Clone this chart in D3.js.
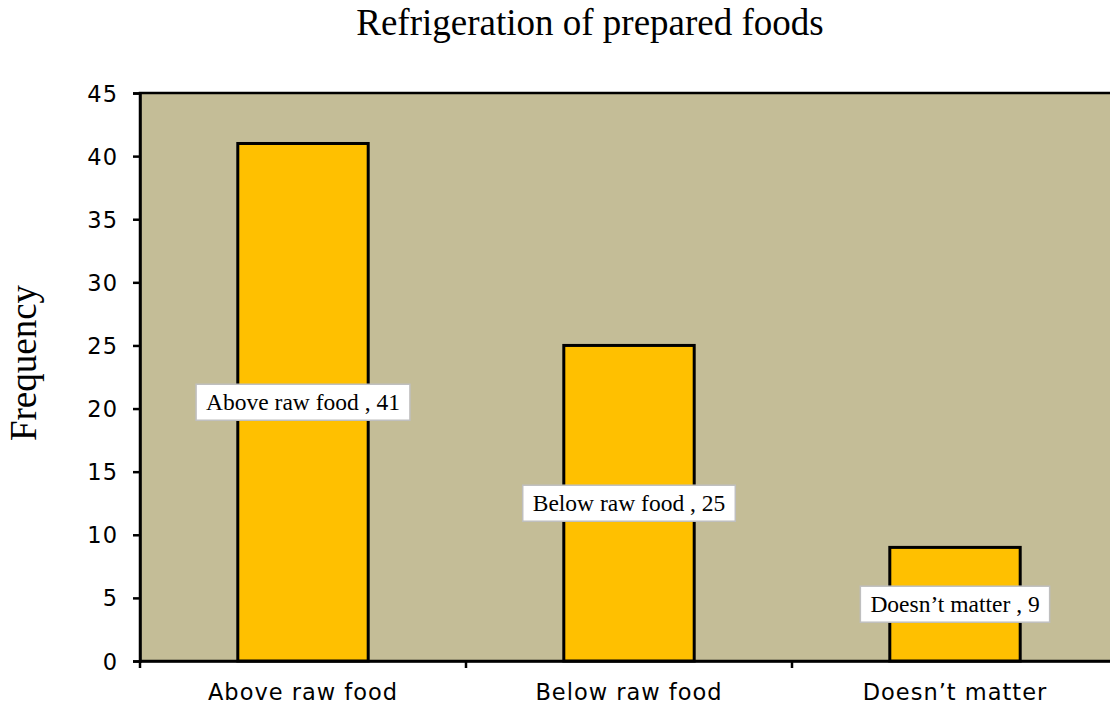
<!DOCTYPE html>
<html>
<head>
<meta charset="utf-8">
<script src="https://cdn.jsdelivr.net/npm/d3@7"></script>
<style>
  html, body { margin: 0; padding: 0; background: #fff; }
  svg { display: block; }
</style>
</head>
<body>
<svg id="chart" width="1110" height="709"></svg>
<script>
// chart data
var categories = ["Above raw food", "Below raw food", "Doesn\u2019t matter"];
var frequencies = [41, 25, 9];
var yTicks = [0, 5, 10, 15, 20, 25, 30, 35, 40, 45];

var svg = d3.select("#chart"),
  margin = {top: 93, left: 140, bottom: 48},
  plotW = 978,
  plotH = +svg.attr("height") - margin.top - margin.bottom;

var x = d3.scaleBand()
  .domain(categories)
  .range([margin.left, margin.left + plotW])
  .padding(0);

var y = d3.scaleLinear()
  .domain([0, 45])
  .range([margin.top + plotH, margin.top]);

var barW = x.bandwidth() * 0.4;

// plot background
svg.append("rect")
  .attr("x", margin.left)
  .attr("y", margin.top)
  .attr("width", plotW)
  .attr("height", plotH)
  .style("fill", "#c4bd97")
  .style("stroke", "#000")
  .style("stroke-width", 2.5);

// bars
svg.append("g")
  .selectAll("rect")
  .data(frequencies)
  .enter().append("rect")
  .attr("x", function(d, i) { return x(categories[i]) + (x.bandwidth() - barW) / 2; })
  .attr("y", function(d) { return y(d); })
  .attr("width", barW)
  .attr("height", function(d) { return y(0) - y(d); })
  .style("fill", "#ffc000")
  .style("stroke", "#000")
  .style("stroke-width", 3);

// y axis
var yAxis = svg.append("g")
  .attr("transform", "translate(" + margin.left + ",0)")
  .call(d3.axisLeft(y).tickValues(yTicks).tickSize(7).tickPadding(15));

// x axis (ticks at category boundaries)
var xAxis = svg.append("g")
  .attr("transform", "translate(0," + y(0) + ")")
  .call(d3.axisBottom(x).tickSize(0).tickPadding(23));

xAxis.selectAll(".bound")
  .data(d3.range(categories.length + 1))
  .enter().append("line")
  .attr("class", "bound")
  .attr("x1", function(i) { return margin.left + i * x.step(); })
  .attr("x2", function(i) { return margin.left + i * x.step(); })
  .attr("y1", 0)
  .attr("y2", 7)
  .style("stroke", "#000")
  .style("stroke-width", 2.5);

[yAxis, xAxis].forEach(function(a) {
  a.select(".domain").style("stroke", "#000").style("stroke-width", 2.5);
  a.selectAll(".tick line").style("stroke", "#000").style("stroke-width", 2.5);
  a.selectAll(".tick text")
    .style("font-family", "'DejaVu Sans', Verdana, sans-serif")
    .style("font-size", "22.5px")
    .style("letter-spacing", "1px")
    .style("fill", "#000");
});
yAxis.selectAll(".tick text").attr("dy", "0.36em");

// data labels in the middle of each bar
var labels = svg.append("g")
  .selectAll("g")
  .data(frequencies)
  .enter().append("g")
  .attr("transform", function(d, i) {
    return "translate(" + (x(categories[i]) + x.bandwidth() / 2) + "," + y(d / 2) + ")";
  });

labels.append("text")
  .attr("text-anchor", "middle")
  .attr("dy", "0.34em")
  .style("font-family", "'Liberation Serif', 'Times New Roman', serif")
  .style("font-size", "23.5px")
  .style("fill", "#000")
  .text(function(d, i) { return categories[i] + " , " + d; });

labels.each(function() {
  var g = d3.select(this),
    bb = g.select("text").node().getBBox();
  g.insert("rect", "text")
    .attr("x", bb.x - 10)
    .attr("y", -18)
    .attr("width", bb.width + 20)
    .attr("height", 36)
    .style("fill", "#fff")
    .style("stroke", "#bfbfbf")
    .style("stroke-width", 1.5);
});

// title
svg.append("text")
  .attr("x", 590)
  .attr("y", 35)
  .attr("text-anchor", "middle")
  .style("font-family", "'Liberation Serif', 'Times New Roman', serif")
  .style("font-size", "37px")
  .text("Refrigeration of prepared foods");

// y axis title
svg.append("text")
  .attr("transform", "translate(36,363) rotate(-90)")
  .attr("text-anchor", "middle")
  .style("font-family", "'Liberation Serif', 'Times New Roman', serif")
  .style("font-size", "37px")
  .text("Frequency");
</script>
</body>
</html>
